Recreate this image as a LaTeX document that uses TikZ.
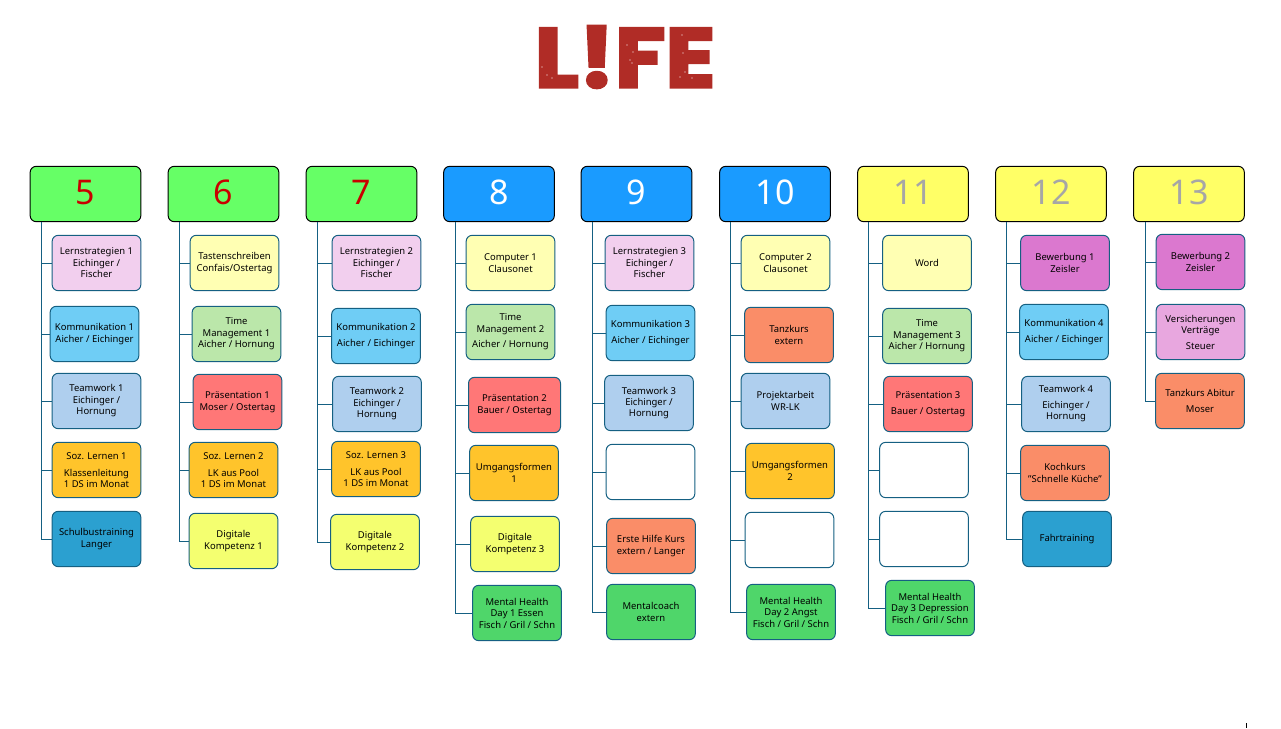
\documentclass[tikz,border=0pt]{standalone}
\usepackage{fontspec}
\setmainfont{Noto Sans}
\newfontfamily\logofont[FakeStretch=1.1,BoldFeatures={FakeBold=3.5}]{Poppins}
\definecolor{edgeblue}{HTML}{156082}
\definecolor{logored}{HTML}{B02C26}
\definecolor{headred}{HTML}{C80000}
\definecolor{headgrey}{HTML}{A6A6A6}
\definecolor{headgreen}{HTML}{66FF66}
\definecolor{headblue}{HTML}{1A9BFF}
\definecolor{headyellow}{HTML}{FFFF66}
\definecolor{lilac}{HTML}{F2CFEE}
\definecolor{sky}{HTML}{6FCDF5}
\definecolor{paleblue}{HTML}{AFCFEE}
\definecolor{amber}{HTML}{FFC42B}
\definecolor{teal}{HTML}{2BA0D0}
\definecolor{paleyellow}{HTML}{FFFFB3}
\definecolor{palegreen}{HTML}{BBE7AA}
\definecolor{coral}{HTML}{FF7777}
\definecolor{lime}{HTML}{F4FF70}
\definecolor{leaf}{HTML}{4FD66A}
\definecolor{salmon}{HTML}{FA8D68}
\definecolor{violet}{HTML}{DB78CF}
\definecolor{mauve}{HTML}{E8A7DF}
\tikzset{
  head/.style={draw=black, line width=0.75pt, rounded corners=4.5pt, minimum width=83pt,
    minimum height=41.5pt, inner sep=0pt, text depth=3pt, font=\fontsize{25.5}{30}\selectfont},
  fach/.style={draw=edgeblue, line width=0.75pt, rounded corners=4.5pt, minimum width=66.5pt,
    minimum height=41.5pt, inner sep=0pt, align=center, text=black,
    font=\fontsize{7.1}{8.6}\selectfont},
  link/.style={draw=edgeblue, line width=0.75pt}
}
\begin{document}
\begin{tikzpicture}[x=0.75pt,y=-0.75pt]
\useasboundingbox (0,0) rectangle (1281,728);
% Logo
\node[text=logored, font=\logofont\bfseries\fontsize{63}{63}\selectfont, inner sep=0pt] (logo) at (625,57) {L!FE};
\fill[white] (542,67) circle (0.6) (547,75) circle (0.6) (552,78) circle (0.6)
  (627,45) circle (0.6) (633,52) circle (0.6) (630,60) circle (0.6) (632,63) circle (0.6)
  (682,35) circle (0.6) (683,53) circle (0.6) (685,72) circle (0.6) (680,77) circle (0.6) (692,78) circle (0.6);
% Jahrgang 5
\node[head, fill=headgreen, text=headred] (h5) at (85.5,194) {5};
\node[fach, fill=lilac] (lern1) at (96.5,263) {Lernstrategien 1\\Eichinger /\\Fischer};
\node[fach, fill=sky] (komm1) at (94.5,334) {Kommunikation 1\\Aicher / Eichinger};
\node[fach, fill=paleblue] (team1) at (96.5,401) {Teamwork 1\\Eichinger /\\Hornung};
\node[fach, fill=amber] (soz1) at (96.5,470) {Soz. Lernen 1\\[4pt]Klassenleitung\\1 DS im Monat};
\node[fach, fill=teal] (bus) at (96.5,539) {Schulbustraining\\Langer};
\coordinate (s5) at (41,222);
\draw[link] (s5) |- (lern1.west) (s5) |- (komm1.west) (s5) |- (team1.west) (s5) |- (soz1.west) (s5) |- (bus.west);
% Jahrgang 6
\node[head, fill=headgreen, text=headred] (h6) at (223.5,194) {6};
\node[fach, fill=paleyellow] (tast) at (234.5,263) {Tastenschreiben\\Confais/Ostertag};
\node[fach, fill=palegreen] (time1) at (236.5,334) {Time\\Management 1\\Aicher / Hornung};
\node[fach, fill=coral] (pres1) at (237.5,402) {Präsentation 1\\Moser / Ostertag};
\node[fach, fill=amber] (soz2) at (233.5,470) {Soz. Lernen 2\\[4pt]LK aus Pool\\1 DS im Monat};
\node[fach, fill=lime] (dig1) at (233.5,541) {Digitale\\Kompetenz 1};
\coordinate (s6) at (179,222);
\draw[link] (s6) |- (tast.west) (s6) |- (time1.west) (s6) |- (pres1.west) (s6) |- (soz2.west) (s6) |- (dig1.west);
% Jahrgang 7
\node[head, fill=headgreen, text=headred] (h7) at (361.5,194) {7};
\node[fach, fill=lilac] (lern2) at (376.5,263) {Lernstrategien 2\\Eichinger /\\Fischer};
\node[fach, fill=sky] (komm2) at (376,336) {Kommunikation 2\\[3pt]Aicher / Eichinger};
\node[fach, fill=paleblue] (team2) at (377,404) {Teamwork 2\\Eichinger /\\Hornung};
\node[fach, fill=amber] (soz3) at (376,469) {Soz. Lernen 3\\[4pt]LK aus Pool\\1 DS im Monat};
\node[fach, fill=lime] (dig2) at (375,542) {Digitale\\Kompetenz 2};
\coordinate (s7) at (317,222);
\draw[link] (s7) |- (lern2.west) (s7) |- (komm2.west) (s7) |- (team2.west) (s7) |- (soz3.west) (s7) |- (dig2.west);
% Jahrgang 8
\node[head, fill=headblue, text=white] (h8) at (499,194) {8};
\node[fach, fill=paleyellow] (comp1) at (510.5,263) {Computer 1\\Clausonet};
\node[fach, fill=palegreen] (time2) at (510.5,332) {Time\\Management 2\\[3pt]Aicher / Hornung};
\node[fach, fill=coral, minimum width=69pt] (pres2) at (514.5,405) {Präsentation 2\\Bauer / Ostertag};
\node[fach, fill=amber] (umg1) at (514,473) {Umgangsformen\\1};
\node[fach, fill=lime] (dig3) at (515,544) {Digitale\\Kompetenz 3};
\node[fach, fill=leaf] (mh1) at (517,613) {Mental Health\\Day 1 Essen\\Fisch / Gril / Schn};
\coordinate (s8) at (455,222);
\draw[link] (s8) |- (comp1.west) (s8) |- (time2.west) (s8) |- (pres2.west) (s8) |- (umg1.west) (s8) |- (dig3.west) (s8) |- (mh1.west);
% Jahrgang 9
\node[head, fill=headblue, text=white] (h9) at (636.5,194) {9};
\node[fach, fill=lilac] (lern3) at (649.5,263) {Lernstrategien 3\\Eichinger /\\Fischer};
\node[fach, fill=sky] (komm3) at (650.5,333) {Kommunikation 3\\[3pt]Aicher / Eichinger};
\node[fach, fill=paleblue] (team3) at (649,403) {Teamwork 3\\Eichinger /\\Hornung};
\node[fach, fill=white] (leer1) at (650.5,472) {};
\node[fach, fill=salmon] (hilfe) at (651,546) {Erste Hilfe Kurs\\extern / Langer};
\node[fach, fill=leaf] (coach) at (651,612) {Mentalcoach\\extern};
\coordinate (s9) at (592,222);
\draw[link] (s9) |- (lern3.west) (s9) |- (komm3.west) (s9) |- (team3.west) (s9) |- (leer1.west) (s9) |- (hilfe.west) (s9) |- (coach.west);
% Jahrgang 10
\node[head, fill=headblue, text=white] (h10) at (775,194) {10};
\node[fach, fill=paleyellow] (comp2) at (785.5,263) {Computer 2\\Clausonet};
\node[fach, fill=salmon] (tanz) at (789,335) {Tanzkurs\\extern};
\node[fach, fill=paleblue] (proj) at (785.5,401) {Projektarbeit\\WR-LK};
\node[fach, fill=amber] (umg2) at (790,471) {Umgangsformen\\2};
\node[fach, fill=white] (leer2) at (789.5,540) {};
\node[fach, fill=leaf] (mh2) at (791,612) {Mental Health\\Day 2 Angst\\Fisch / Gril / Schn};
\coordinate (s10) at (730,222);
\draw[link] (s10) |- (comp2.west) (s10) |- (tanz.west) (s10) |- (proj.west) (s10) |- (umg2.west) (s10) |- (leer2.west) (s10) |- (mh2.west);
% Jahrgang 11
\node[head, fill=headyellow, text=headgrey] (h11) at (913,194) {11};
\node[fach, fill=paleyellow] (word) at (927,263) {Word};
\node[fach, fill=palegreen] (time3) at (927,336) {Time\\Management 3\\Aicher / Hornung};
\node[fach, fill=coral] (pres3) at (928,404) {Präsentation 3\\[3pt]Bauer / Ostertag};
\node[fach, fill=white] (leer3) at (924,470) {};
\node[fach, fill=white] (leer4) at (924,539) {};
\node[fach, fill=leaf] (mh3) at (930,608) {Mental Health\\Day 3 Depression\\Fisch / Gril / Schn};
\coordinate (s11) at (868,222);
\draw[link] (s11) |- (word.west) (s11) |- (time3.west) (s11) |- (pres3.west) (s11) |- (leer3.west) (s11) |- (leer4.west) (s11) |- (mh3.west);
% Jahrgang 12
\node[head, fill=headyellow, text=headgrey] (h12) at (1051,194) {12};
\node[fach, fill=violet] (bew1) at (1065,263) {Bewerbung 1\\Zeisler};
\node[fach, fill=sky] (komm4) at (1064,332) {Kommunikation 4\\[3pt]Aicher / Eichinger};
\node[fach, fill=paleblue] (team4) at (1066,404) {Teamwork 4\\[3pt]Eichinger /\\Hornung};
\node[fach, fill=salmon] (koch) at (1065,473) {Kochkurs\\"Schnelle Küche"};
\node[fach, fill=teal] (fahr) at (1067,539) {Fahrtraining};
\coordinate (s12) at (1006,222);
\draw[link] (s12) |- (bew1.west) (s12) |- (komm4.west) (s12) |- (team4.west) (s12) |- (koch.west) (s12) |- (fahr.west);
% Jahrgang 13
\node[head, fill=headyellow, text=headgrey] (h13) at (1189,194) {13};
\node[fach, fill=violet] (bew2) at (1200.5,262) {Bewerbung 2\\Zeisler};
\node[fach, fill=mauve] (vers) at (1200.5,332) {Versicherungen\\Verträge\\[3pt]Steuer};
\node[fach, fill=salmon] (abi) at (1200,401) {Tanzkurs Abitur\\[3pt]Moser};
\coordinate (s13) at (1145,222);
\draw[link] (s13) |- (bew2.west) (s13) |- (vers.west) (s13) |- (abi.west);
% Strich unten rechts
\draw[black, line width=0.75pt] (1246,723) -- (1246,728);
\end{tikzpicture}
\end{document}
